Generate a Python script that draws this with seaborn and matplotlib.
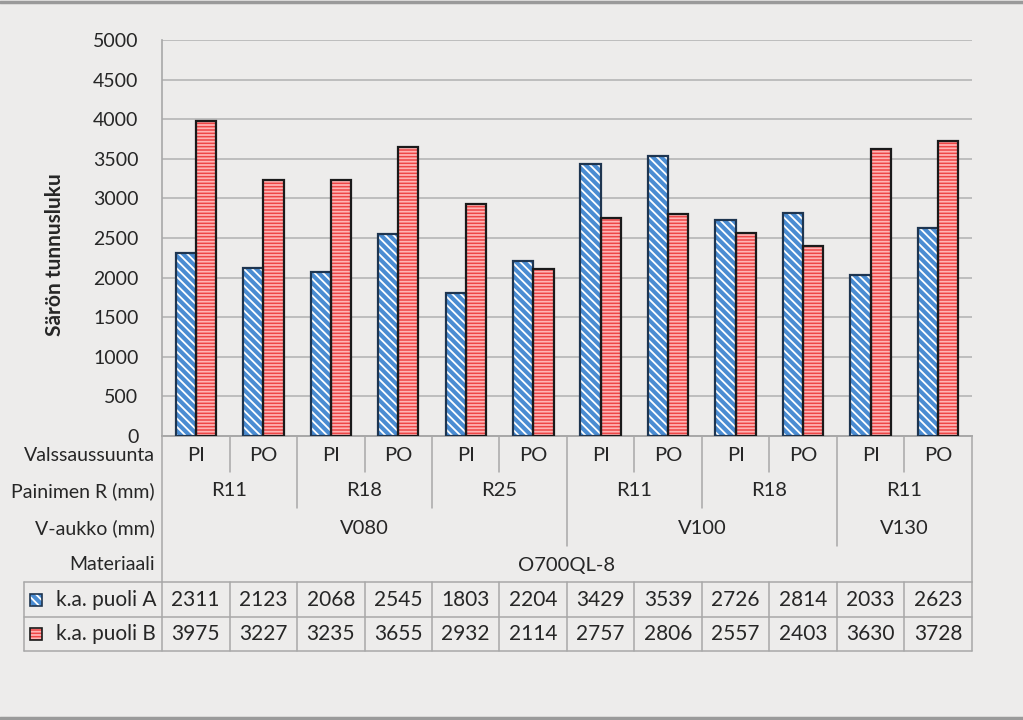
import matplotlib
matplotlib.use("Agg")
import matplotlib.pyplot as plt
import seaborn as sns
import pandas as pd
from matplotlib.patches import Rectangle
from matplotlib.lines import Line2D
from matplotlib.transforms import blended_transform_factory

# ---------------- data ----------------
valssaus = ["PI", "PO", "PI", "PO", "PI", "PO", "PI", "PO", "PI", "PO", "PI", "PO"]
painimen = ["R11", "R18", "R25", "R11", "R18", "R11"]          # each spans 2
v_aukko = ["V080", "V100", "V130"]
v_span = [6, 4, 2]
materiaali = "O700QL-8"
series_names = ["k.a. puoli A", "k.a. puoli B"]
puoli_a = [2311, 2123, 2068, 2545, 1803, 2204, 3429, 3539, 2726, 2814, 2033, 2623]
puoli_b = [3975, 3227, 3235, 3655, 2932, 2114, 2757, 2806, 2557, 2403, 3630, 3728]
row_labels = ["Valssaussuunta", "Painimen R (mm)", "V-aukko (mm)", "Materiaali"]
ylabel = "Särön tunnusluku"
yticks = list(range(0, 5001, 500))

# ---------------- styling ----------------
BG = "#EDECEB"
GRID = "#BDBDBD"
LINE = "#A8A8A8"
BLUE_FACE, BLUE_HATCH, BLUE_EDGE = "#4A8CD2", "#FFFFFF", "#1E3550"
RED_FACE, RED_HATCH, RED_EDGE = "#EE4646", "#FFB4B4", "#1A1A1A"
FONT = ["Lato", "DejaVu Sans"]
TXT = "#262626"

sns.set_theme(style="white")
plt.rcParams["font.family"] = FONT
plt.rcParams["hatch.linewidth"] = 1.3
plt.rcParams["text.color"] = TXT

# build long-form table
v_full = []
for v, s in zip(v_aukko, v_span):
    v_full += [v] * s
r_full = [r for r in painimen for _ in range(2)]
cats = [f"{v}|{r}|{p}|{i}" for i, (v, r, p) in enumerate(zip(v_full, r_full, valssaus))]
df = pd.DataFrame({
    "cat": cats * 2,
    "value": puoli_a + puoli_b,
    "series": [series_names[0]] * len(cats) + [series_names[1]] * len(cats),
})

W, H = 1023, 720
fig = plt.figure(figsize=(W / 100, H / 100), dpi=100, facecolor=BG)
L, R, T, B = 162, 972, 40, 436
ax = fig.add_axes([L / W, 1 - B / H, (R - L) / W, (B - T) / H])
ax.set_facecolor(BG)

sns.barplot(data=df, x="cat", y="value", hue="series", order=cats,
            hue_order=series_names, palette=[BLUE_FACE, RED_FACE],
            width=0.6, gap=0, legend=False, ax=ax, errorbar=None, zorder=3)

n = len(cats)
for i, p in enumerate(ax.patches[:2 * n]):
    is_a = i < n
    face, hcol, ecol = (BLUE_FACE, BLUE_HATCH, BLUE_EDGE) if is_a else (RED_FACE, RED_HATCH, RED_EDGE)
    p.set_facecolor(face)
    p.set_edgecolor(hcol)
    p.set_hatch("\\\\\\\\" if is_a else "-----")
    p.set_linewidth(0)
    ax.add_patch(Rectangle((p.get_x(), p.get_y()), p.get_width(), p.get_height(),
                           fill=False, edgecolor=ecol, linewidth=1.6, zorder=4))

ax.set_xlim(-0.5, n - 0.5)
ax.set_ylim(0, 5000)
ax.set_yticks(yticks)
ax.set_yticklabels([str(t) for t in yticks], fontsize=14)
ax.tick_params(axis="y", length=0, pad=17, colors=TXT)
ax.set_xticks([])
ax.set_xlabel("")
ax.set_ylabel(ylabel, fontsize=15, fontweight="bold")
ax.yaxis.set_label_coords(-0.12, 0.457)
ax.grid(axis="y", color=GRID, linewidth=1.4, zorder=0)
ax.set_axisbelow(True)
for s in ["top", "right"]:
    ax.spines[s].set_visible(False)
ax.spines["left"].set_color(LINE)
ax.spines["left"].set_linewidth(1.2)
ax.spines["bottom"].set_color(LINE)
ax.spines["bottom"].set_linewidth(1.4)

# ---------------- multi-level axis and data table ----------------
tr = blended_transform_factory(ax.transData, ax.transAxes)
def fy(py):
    return (B - py) / (B - T)
def fx(px):
    return (px - L) / (R - L)
ta = ax.transAxes

def vline(xd, y0, y1):
    ax.add_line(Line2D([xd, xd], [fy(y0), fy(y1)], transform=tr, color=LINE,
                       linewidth=1.1, clip_on=False))

def hline(x0, x1, yp):
    ax.add_line(Line2D([fx(x0), fx(x1)], [fy(yp), fy(yp)], transform=ta, color=LINE,
                       linewidth=1.1, clip_on=False))

txt_kw = dict(fontsize=14.5, ha="center", va="center", clip_on=False, color=TXT)
val_kw = dict(fontsize=15, ha="center", va="center", clip_on=False, color=TXT)

# level 1: Valssaussuunta
for i, p in enumerate(valssaus):
    ax.text(i, fy(456), p, transform=tr, **txt_kw)
# level 2: Painimen R
for j, r in enumerate(painimen):
    ax.text(2 * j + 0.5, fy(491), r, transform=tr, **txt_kw)
# level 3: V-aukko
start = 0
v_bounds = []
for v, s in zip(v_aukko, v_span):
    ax.text(start + (s - 1) / 2, fy(528), v, transform=tr, **txt_kw)
    start += s
    v_bounds.append(start - 0.5)
# level 4: Materiaali
ax.text((n - 1) / 2, fy(565), materiaali, transform=tr, **txt_kw)

# separators
for b in range(n - 1):
    xb = b + 0.5
    if xb in v_bounds:
        vline(xb, B, 546)
    elif b % 2 == 1:
        vline(xb, B, 508)
    else:
        vline(xb, B, 472)
vline(-0.5, B, 582)
vline(n - 0.5, B, 582)

# row labels
lab_kw = dict(fontsize=14, ha="right", va="center", clip_on=False, color=TXT)
for lab, yp in zip(row_labels, [456, 491, 528, 565]):
    ax.text(fx(155), fy(yp), lab, transform=ta, **lab_kw)

# data table
TL, TT, TM, TB = 24, 582, 617, 651
hline(TL, R, TT)
hline(TL, R, TM)
hline(TL, R, TB)
ax.add_line(Line2D([fx(TL), fx(TL)], [fy(TT), fy(TB)], transform=ta, color=LINE,
                   linewidth=1.1, clip_on=False))
for b in range(n + 1):
    vline(b - 0.5, TT, TB)

ser_kw = dict(fontsize=15, ha="right", va="center", clip_on=False, color=TXT)
for row, (vals, yp) in enumerate([(puoli_a, 600), (puoli_b, 634)]):
    for i, v in enumerate(vals):
        ax.text(i, fy(yp), str(v), transform=tr, **val_kw)
    ax.text(fx(156), fy(yp), series_names[row], transform=ta, **ser_kw)
    face, hcol, ecol = (BLUE_FACE, BLUE_HATCH, BLUE_EDGE) if row == 0 else (RED_FACE, RED_HATCH, RED_EDGE)
    x0, y0, s = 30, yp + 6, 12
    key = Rectangle((fx(x0), fy(y0)), fx(x0 + s) - fx(x0), fy(y0 - s) - fy(y0),
                    transform=ta, facecolor=face, edgecolor=hcol, linewidth=0,
                    hatch="\\\\\\\\" if row == 0 else "-----", clip_on=False)
    ax.add_patch(key)
    ax.add_patch(Rectangle((fx(x0), fy(y0)), fx(x0 + s) - fx(x0), fy(y0 - s) - fy(y0),
                           transform=ta, fill=False, edgecolor=ecol, linewidth=1.2,
                           clip_on=False))

# outer frame lines
fig.add_artist(Line2D([0, 1], [1 - 2 / H, 1 - 2 / H], transform=fig.transFigure,
                      color="#9A9A9A", linewidth=2.5))
fig.add_artist(Line2D([0, 1], [1 - 718 / H, 1 - 718 / H], transform=fig.transFigure,
                      color="#9A9A9A", linewidth=2.5))

fig.savefig("out.png", dpi=100, facecolor=BG)
